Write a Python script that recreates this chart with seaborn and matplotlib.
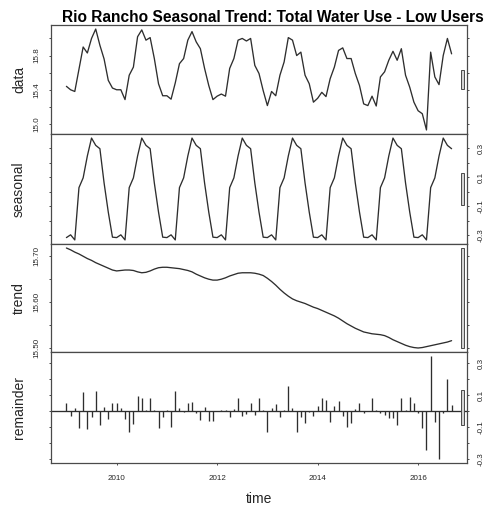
import numpy as np
import pandas as pd
import matplotlib
matplotlib.use("Agg")
import matplotlib.pyplot as plt
from matplotlib.patches import Rectangle
import seaborn as sns

# ---------------- data ----------------
title = "Rio Rancho Seasonal Trend: Total Water Use - Low Users"
panel_names = ["data", "seasonal", "trend", "remainder"]
x_label = "time"
start_year = 2009  # monthly series, Jan 2009 - Sep 2016

data_values = [
    15.44, 15.40, 15.38, 15.64, 15.90, 15.83, 16.00, 16.11, 15.92, 15.76, 15.51, 15.42,
    15.40, 15.40, 15.285, 15.57, 15.665, 16.02, 16.10, 15.98, 16.01, 15.765, 15.47, 15.33,
    15.33, 15.29, 15.48, 15.705, 15.765, 15.98, 16.08, 15.96, 15.88, 15.65, 15.45, 15.285,
    15.325, 15.35, 15.325, 15.65, 15.765, 15.98, 16.00, 15.97, 16.00, 15.685, 15.59, 15.39,
    15.215, 15.38, 15.33, 15.57, 15.725, 16.01, 15.98, 15.80, 15.84, 15.57, 15.47, 15.255,
    15.30, 15.37, 15.32, 15.53, 15.665, 15.86, 15.89, 15.765, 15.765, 15.59, 15.45, 15.235,
    15.215, 15.325, 15.21, 15.55, 15.61, 15.745, 15.85, 15.745, 15.88, 15.57, 15.43, 15.255,
    15.155, 15.12, 14.93, 15.84, 15.55, 15.46, 15.80, 16.00, 15.82,
]

seasonal_by_month = [-0.315, -0.296, -0.331, 0.028, 0.095, 0.245,
                     0.368, 0.318, 0.295, 0.060, -0.140, -0.312]

trend_values = [
    15.718, 15.714, 15.709, 15.705, 15.700, 15.695, 15.691, 15.686, 15.682, 15.678, 15.674, 15.670,
    15.668, 15.669, 15.670, 15.670, 15.669, 15.666, 15.664, 15.665, 15.668, 15.672, 15.675, 15.676,
    15.676, 15.675, 15.674, 15.673, 15.671, 15.669, 15.666, 15.661, 15.657, 15.653, 15.650, 15.648,
    15.648, 15.650, 15.653, 15.657, 15.660, 15.663, 15.664, 15.664, 15.664, 15.663, 15.661, 15.658,
    15.652, 15.645, 15.637, 15.628, 15.620, 15.613, 15.607, 15.603, 15.600, 15.597, 15.593, 15.589,
    15.586, 15.582, 15.578, 15.574, 15.570, 15.565, 15.559, 15.553, 15.548, 15.543, 15.539, 15.535,
    15.533, 15.531, 15.530, 15.529, 15.527, 15.523, 15.518, 15.514, 15.510, 15.506, 15.503, 15.501,
    15.500, 15.501, 15.503, 15.505, 15.507, 15.509, 15.511, 15.513, 15.516,
]

remainder_values = [
    0.049, -0.032, 0.021, -0.110, 0.121, -0.113, -0.038, 0.127, -0.089, 0.025, -0.049, 0.049,
    0.049, 0.017, -0.053, -0.134, -0.081, 0.096, 0.079, 0.004, 0.079, 0.004, -0.110, -0.036,
    0.003, -0.102, 0.127, 0.021, -0.006, 0.047, 0.057, -0.015, -0.057, 0.025, -0.064, -0.064,
    0.002, 0.003, 0.008, -0.038, 0.010, 0.079, -0.032, -0.021, 0.049, -0.028, 0.079, 0.004,
    -0.134, 0.021, 0.042, -0.038, 0.006, 0.159, 0.017, -0.134, -0.038, -0.074, -0.006, -0.032,
    0.032, 0.079, 0.070, -0.068, 0.032, 0.064, -0.032, -0.100, -0.074, 0.010, 0.047, -0.011,
    0.002, 0.081, 0.006, -0.015, -0.025, -0.042, -0.042, -0.089, 0.081, 0.008, 0.089, 0.047,
    -0.011, -0.106, -0.244, 0.344, -0.068, -0.301, -0.015, 0.202, 0.038,
]

x_ticks = [2010, 2012, 2014, 2016]
x_tick_labels = ["2010", "2012", "2014", "2016"]

data_ticks = [15.0, 15.2, 15.4, 15.6, 15.8, 16.0]
data_tick_labels = ["15.0", "", "15.4", "", "15.8", ""]
seasonal_ticks = [-0.3, -0.2, -0.1, 0.0, 0.1, 0.2, 0.3]
seasonal_tick_labels = ["-0.3", "", "-0.1", "", "0.1", "", "0.3"]
trend_ticks = [15.50, 15.55, 15.60, 15.65, 15.70]
trend_tick_labels = ["15.50", "", "15.60", "", "15.70"]
remainder_ticks = [-0.3, -0.2, -0.1, 0.0, 0.1, 0.2, 0.3]
remainder_tick_labels = ["-0.3", "", "-0.1", "", "0.1", "", "0.3"]

# ---------------- build frame ----------------
n = len(data_values)
time = start_year + np.arange(n) / 12.0
seasonal_values = [seasonal_by_month[i % 12] for i in range(n)]
df = pd.DataFrame({
    "time": time,
    "data": data_values,
    "seasonal": seasonal_values,
    "trend": trend_values,
    "remainder": remainder_values,
})

tick_sets = {
    "data": (data_ticks, data_tick_labels),
    "seasonal": (seasonal_ticks, seasonal_tick_labels),
    "trend": (trend_ticks, trend_tick_labels),
    "remainder": (remainder_ticks, remainder_tick_labels),
}

# ---------------- style ----------------
sns.set_style("white")
plt.rcParams["font.family"] = ["Liberation Sans", "DejaVu Sans"]

W, H = 487, 508
left_px, right_px = 51, 467
edges_px = [25, 134, 244, 352, 463]
ink = "#2e2e2e"
frame = "#4a4a4a"
txt = "#262626"

fig = plt.figure(figsize=(W / 100, H / 100), dpi=100)
fig.patch.set_facecolor("white")

t0, t1 = float(time.min()), float(time.max())
xlim = (t0 - 0.04 * (t1 - t0), t1 + 0.04 * (t1 - t0))
ranges = {c: (float(df[c].min()), float(df[c].max())) for c in panel_names}
mx = min(hi - lo for lo, hi in ranges.values())
dx = (xlim[1] - xlim[0]) / 64.0

for i, name in enumerate(panel_names):
    top, bot = edges_px[i], edges_px[i + 1]
    ax = fig.add_axes([left_px / W, 1 - bot / H, (right_px - left_px) / W, (bot - top) / H])
    ax.set_facecolor("white")
    if name != "remainder":
        sns.lineplot(data=df, x="time", y=name, ax=ax, color=ink, linewidth=0.95)
    else:
        ax.vlines(df["time"], 0, df[name], color=ink, linewidth=0.95)
        ax.axhline(0, color=ink, linewidth=0.95)
    lo, hi = ranges[name]
    r = hi - lo
    ax.set_xlim(*xlim)
    ax.set_ylim(lo - 0.04 * r, hi + 0.04 * r)

    # range bar
    ymid = (lo + hi) / 2
    ax.add_patch(Rectangle((xlim[1] - dx, ymid - mx / 2), 0.6 * dx, mx,
                           facecolor="#d3d3d3", edgecolor=frame, linewidth=0.7,
                           clip_on=False, zorder=3))

    for sp in ax.spines.values():
        sp.set_visible(True)
        sp.set_color(frame)
        sp.set_linewidth(0.9)

    right_side = (i % 2 == 1)
    ticks, labels = tick_sets[name]
    ax.set_yticks(ticks)
    ax.set_yticklabels(labels)
    ax.tick_params(axis="y", left=True, right=True, labelleft=not right_side,
                   labelright=right_side, direction="out", length=1.6, width=0.7,
                   color=frame, labelsize=5.8, labelcolor=txt, pad=6)
    for lab in ax.get_yticklabels():
        lab.set_rotation(90)
        lab.set_va("center")

    ax.set_xticks(x_ticks)
    last = (i == len(panel_names) - 1)
    ax.set_xticklabels(x_tick_labels if last else [])
    ax.tick_params(axis="x", bottom=True, top=False, labelbottom=last, direction="out",
                   length=1.6, width=0.7, color=frame, labelsize=5.8, labelcolor=txt, pad=7)

    ax.set_xlabel(x_label if last else "", fontsize=10, color=txt, labelpad=7)
    ax.set_ylabel(name, fontsize=10, color=txt)
    ax.yaxis.set_label_coords((19 - left_px) / (right_px - left_px), 0.5)
    ax.yaxis.label.set_verticalalignment("center")
    ax.grid(False)

fig.text(273 / W, 1 - 17 / H, title, ha="center", va="center",
         fontsize=11.2, fontweight="bold", color="black")

fig.savefig("out.png", dpi=100, facecolor="white")
